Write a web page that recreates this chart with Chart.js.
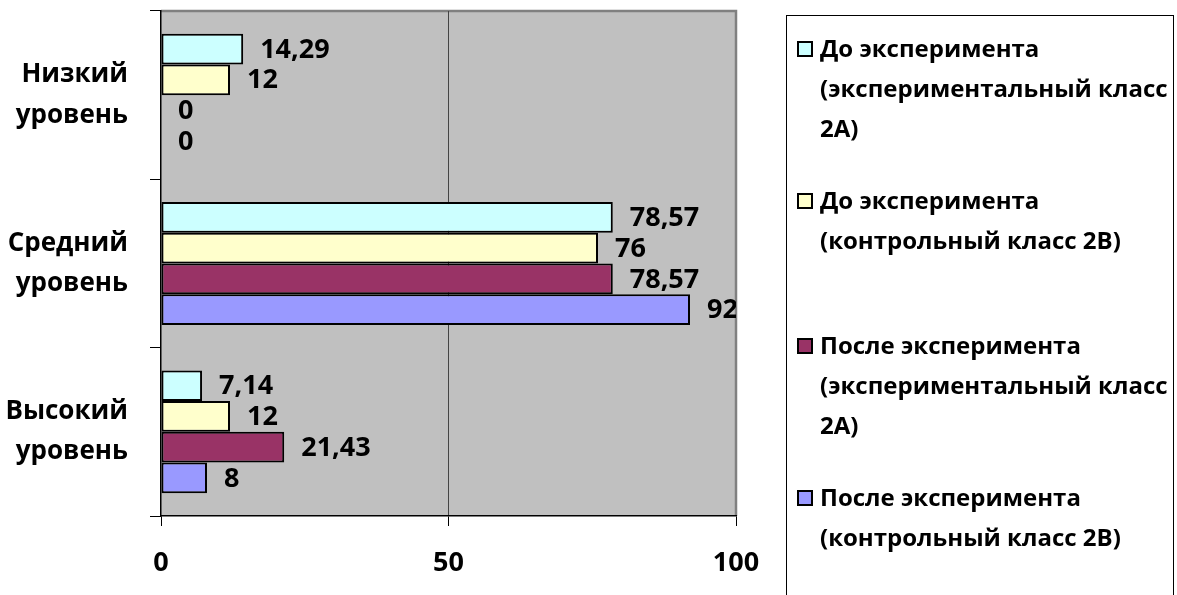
<!DOCTYPE html>
<html lang="ru">
<head>
<meta charset="utf-8">
<script src="https://cdn.jsdelivr.net/npm/chart.js@4.4.1/dist/chart.umd.min.js"></script>
<style>
  body { margin: 0; background: #fff; }
  .wrap { position: relative; width: 1177px; height: 595px; overflow: hidden; }
  #legend {
    position: absolute; left: 786px; top: 15px; width: 388px; height: 600px;
    border: 1px solid #000; box-sizing: border-box; background: #fff;
    font-family: "Open Sans", sans-serif; font-weight: bold; font-size: 24px; color: #000;
  }
  .item { position: absolute; left: 10px; width: 382px; display: flex; line-height: 40px; }
  .box { flex: none; width: 12px; height: 12px; border: 2px solid #000; margin: 13px 7px 0 0; }
</style>
</head>
<body>
<div class="wrap">
  <canvas id="chart" width="1177" height="595"></canvas>
  <div id="legend"></div>
</div>
<script>
// categories (top to bottom)
const levels = [['Низкий', 'уровень'], ['Средний', 'уровень'], ['Высокий', 'уровень']];

// percentages, same order as levels
const before2A = [14.29, 78.57, 7.14];
const before2B = [12, 76, 12];
const after2A = [0, 78.57, 21.43];
const after2B = [0, 92, 8];

const seriesNames = [
  'До эксперимента (экспериментальный класс 2А)',
  'До эксперимента (контрольный класс 2В)',
  'После эксперимента (экспериментальный класс 2А)',
  'После эксперимента (контрольный класс 2В)'
];
const xTicks = [0, 50, 100];

const colors = ['#CCFFFF', '#FFFFCC', '#993366', '#9999FF'];
const legendTops = [12, 164, 309, 461];
const labelFont = 'bold 27px "Open Sans", sans-serif';

const fmt = v => String(v).replace('.', ',');

// grey plot area with grey top/right frame
const plotBg = {
  id: 'plotBg',
  beforeDraw(chart) {
    const { ctx, chartArea: a } = chart;
    ctx.save();
    ctx.fillStyle = '#C0C0C0';
    ctx.fillRect(a.left, a.top, a.right - a.left, a.bottom - a.top);
    ctx.strokeStyle = '#808080';
    ctx.lineWidth = 2.5;
    ctx.beginPath();
    ctx.moveTo(a.left, a.top);
    ctx.lineTo(a.right, a.top);
    ctx.lineTo(a.right, a.bottom);
    ctx.stroke();
    ctx.restore();
  }
};

// value labels to the right of each bar
const valueLabels = {
  id: 'valueLabels',
  afterDatasetsDraw(chart) {
    const { ctx, chartArea: a } = chart;
    ctx.save();
    ctx.beginPath();
    ctx.rect(a.left, a.top, a.right - a.left, a.bottom - a.top);
    ctx.clip();
    ctx.font = labelFont;
    ctx.fillStyle = '#000';
    ctx.textAlign = 'left';
    ctx.textBaseline = 'middle';
    chart.data.datasets.forEach((ds, i) => {
      chart.getDatasetMeta(i).data.forEach((bar, j) => {
        ctx.fillText(fmt(ds.data[j]), bar.x + 17, bar.y + 1);
      });
    });
    ctx.restore();
  }
};

const chart = new Chart(document.getElementById('chart'), {
  type: 'bar',
  data: {
    labels: levels,
    datasets: [before2A, before2B, after2A, after2B].map((d, i) => ({
      label: seriesNames[i],
      data: d,
      backgroundColor: colors[i],
      borderColor: '#000',
      borderWidth: c => (c.raw === 0 ? 0 : 2),
      borderSkipped: false,
      categoryPercentage: 0.73,
      barPercentage: 1
    }))
  },
  options: {
    indexAxis: 'y',
    responsive: false,
    animation: false,
    layout: { padding: { top: 11, right: 441, left: 0, bottom: 0 } },
    plugins: { legend: { display: false }, tooltip: { enabled: false } },
    scales: {
      x: {
        min: 0, max: 100,
        afterBuildTicks: s => { s.ticks = xTicks.map(v => ({ value: v })); },
        afterFit: s => { s.height = 79; s.paddingLeft = 0; s.paddingRight = 0; },
        border: { color: '#000', width: 1.5 },
        grid: {
          color: c => (c.tick && c.tick.value === 50 ? '#444' : 'rgba(0,0,0,0)'),
          lineWidth: 1,
          tickColor: '#000',
          tickLength: 10
        },
        ticks: { color: '#000', font: { family: '"Open Sans", sans-serif', size: 27, weight: 'bold' }, padding: 21 }
      },
      y: {
        afterFit: s => { s.width = 161; s.paddingTop = 0; s.paddingBottom = 0; },
        border: { color: '#000', width: 1.5 },
        grid: { drawOnChartArea: false, tickColor: '#000', tickLength: 11, offset: true },
        ticks: {
          color: '#000', padding: 22,
          font: { family: '"Open Sans", sans-serif', size: 26, weight: 'bold', lineHeight: 1.55 }
        }
      }
    }
  },
  plugins: [plotBg, valueLabels]
});

// html legend built from the datasets
const legend = document.getElementById('legend');
chart.data.datasets.forEach((ds, i) => {
  const item = document.createElement('div');
  item.className = 'item';
  item.style.top = legendTops[i] + 'px';
  const box = document.createElement('span');
  box.className = 'box';
  box.style.background = ds.backgroundColor;
  const txt = document.createElement('span');
  txt.textContent = ds.label;
  item.append(box, txt);
  legend.appendChild(item);
});
</script>
</body>
</html>
